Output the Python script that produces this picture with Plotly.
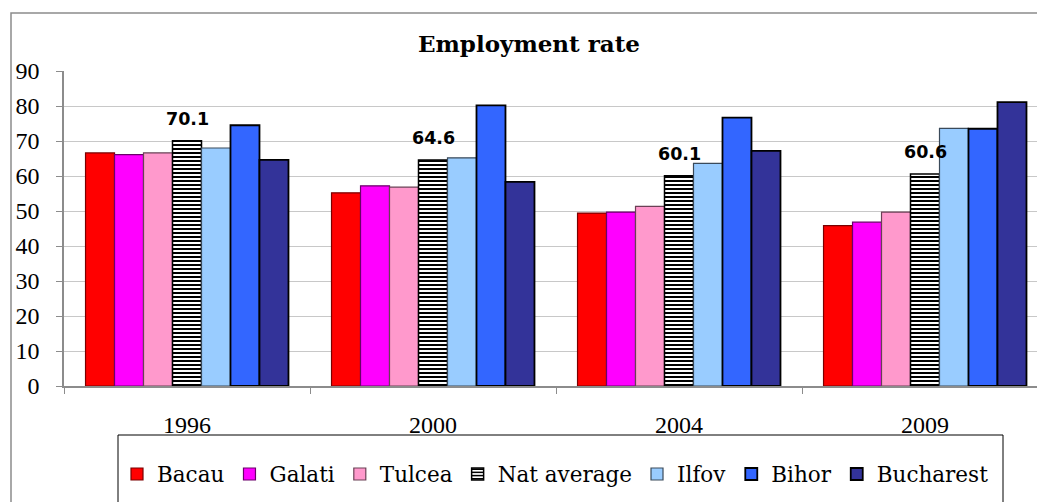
import plotly.graph_objects as go

years = ["1996", "2000", "2004", "2009"]
bacau = [66.6, 55.2, 49.4, 45.8]
galati = [66.1, 57.2, 49.7, 46.8]
tulcea = [66.6, 56.8, 51.3, 49.7]
nat_average = [70.1, 64.6, 60.1, 60.6]
ilfov = [68.0, 65.2, 63.6, 73.6]
bihor = [74.5, 80.2, 76.7, 73.5]
bucharest = [64.6, 58.3, 67.2, 81.1]
y_ticks = [0, 10, 20, 30, 40, 50, 60, 70, 80, 90]

series = [
    ("Bacau", bacau, "#FF0000", "#7a0000"),
    ("Galati", galati, "#FF00FF", "#6a006a"),
    ("Tulcea", tulcea, "#FF99CC", "#6a4055"),
    ("Nat average", nat_average, None, "#000000"),
    ("Ilfov", ilfov, "#99CCFF", "#3a4a5a"),
    ("Bihor", bihor, "#3366FF", "#000000"),
    ("Bucharest", bucharest, "#333399", "#000000"),
]

fig = go.Figure()
for name, vals, col, lc in series:
    if col is None:
        marker = dict(color="white", line=dict(color=lc, width=1.5),
                      pattern=dict(shape="-", fgcolor="black", bgcolor="white",
                                   size=4, solidity=0.5, fillmode="replace"))
    else:
        lw = 1.8 if lc == "#000000" else 1.2
        marker = dict(color=col, line=dict(color=lc, width=lw))
    fig.add_trace(go.Bar(name=name, x=years, y=vals, marker=marker))

for i, v in enumerate(nat_average):
    fig.add_annotation(x=i, y=v, text=f"<b>{v:.1f}</b>", showarrow=False,
                       yanchor="middle", yshift=22,
                       font=dict(family="DejaVu Sans", size=17.5, color="black"))

L, T, B = 64, 71, 116
W, H = 1037, 502
pw = W - L
ph = H - T - B

def px_x(p):
    return (p - L) / pw

def px_y(p):
    return (H - B - p) / ph

# outer chart border
fig.add_shape(type="rect", xref="paper", yref="paper",
              x0=px_x(11), x1=px_x(1060), y0=px_y(530), y1=px_y(13),
              line=dict(color="#8c8c8c", width=1.5), fillcolor="rgba(0,0,0,0)", layer="below")
# legend box
fig.add_shape(type="rect", xref="paper", yref="paper",
              x0=px_x(118), x1=px_x(1003), y0=px_y(530), y1=px_y(435),
              line=dict(color="black", width=1), fillcolor="rgba(0,0,0,0)")

fig.update_layout(
    width=W, height=H,
    margin=dict(l=L, r=0, t=T, b=B),
    paper_bgcolor="white", plot_bgcolor="white",
    barmode="group", bargap=0.175, bargroupgap=0,
    font=dict(family="Liberation Serif", color="black"),
    title=dict(text="<b>Employment rate</b>", xref="container", x=529 / W,
               xanchor="center", yref="container", y=1 - 44 / H, yanchor="middle",
               font=dict(family="DejaVu Serif", size=23, color="black")),
    showlegend=True,
    legend=dict(orientation="h", x=px_x(117), xanchor="left",
                y=px_y(474), yanchor="middle",
                font=dict(family="DejaVu Serif", size=21.5, color="black"),
                bgcolor="rgba(0,0,0,0)", borderwidth=0, traceorder="normal"),
    xaxis=dict(type="category", range=[-0.5, -0.5 + pw / 246],
               showline=True, linecolor="#8c8c8c", linewidth=1.5,
               ticks="outside", tickson="boundaries", ticklen=6, tickcolor="#8c8c8c",
               ticklabelstandoff=16, showgrid=False,
               tickfont=dict(family="Liberation Serif", size=24, color="black")),
    yaxis=dict(range=[0, 90], tickvals=y_ticks, showline=True, linecolor="#8c8c8c",
               linewidth=1.5, ticks="outside", ticklen=6, tickcolor="#8c8c8c",
               gridcolor="#c8c8c8", gridwidth=1, zeroline=False,
               ticklabelstandoff=12,
               tickfont=dict(family="Liberation Serif", size=24, color="black")),
)

fig.write_html("out.html")
